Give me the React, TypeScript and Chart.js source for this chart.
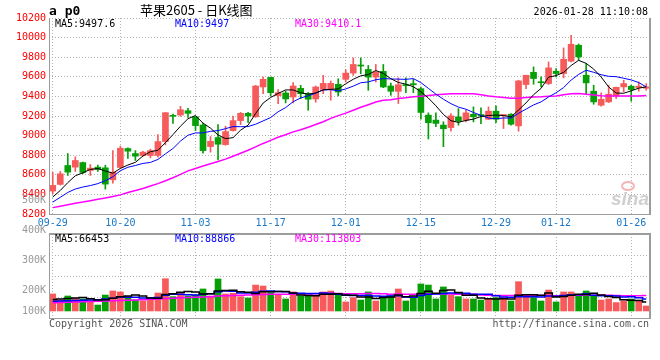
import React, { useEffect, useRef } from 'react';
import { Chart, registerables } from 'chart.js';

Chart.register(...registerables);

// ---------------- data ----------------
const DATES = [
  '09-29', '09-30', '10-09', '10-10', '10-13', '10-14', '10-15', '10-16', '10-17', '10-20',
  '10-21', '10-22', '10-23', '10-24', '10-27', '10-28', '10-29', '10-30', '10-31', '11-03',
  '11-04', '11-05', '11-06', '11-07', '11-10', '11-11', '11-12', '11-13', '11-14', '11-17',
  '11-18', '11-19', '11-20', '11-21', '11-24', '11-25', '11-26', '11-27', '11-28', '12-01',
  '12-02', '12-03', '12-04', '12-05', '12-08', '12-09', '12-10', '12-11', '12-12', '12-15',
  '12-16', '12-17', '12-18', '12-19', '12-22', '12-23', '12-24', '12-25', '12-26', '12-29',
  '12-30', '12-31', '01-05', '01-06', '01-07', '01-08', '01-09', '01-12', '01-13', '01-14',
  '01-15', '01-16', '01-19', '01-20', '01-21', '01-22', '01-23', '01-26', '01-27', '01-28',
];
const AXIS_DATES = ['09-29', '10-20', '11-03', '11-17', '12-01', '12-15', '12-29', '01-12', '01-26'];

const OPEN = [
  8434, 8502, 8695, 8678, 8725, 8644, 8678, 8671, 8549, 8675,
  8868, 8817, 8797, 8797, 8797, 8939, 9203, 9210, 9254, 9193,
  9108, 8888, 8980, 8908, 9051, 9153, 9227, 9192, 9496, 9594,
  9408, 9435, 9394, 9482, 9428, 9374, 9472, 9479, 9523, 9574,
  9638, 9716, 9675, 9597, 9655, 9506, 9452, 9519, 9530, 9479,
  9209, 9158, 9107, 9082, 9191, 9157, 9218, 9212, 9167, 9249,
  9205, 9218, 9099, 9521, 9646, 9545, 9531, 9657, 9633, 9759,
  9922, 9616, 9453, 9310, 9344, 9405, 9497, 9504, 9490, 9483,
];
const HIGH = [
  8624, 8634, 8817, 8783, 8730, 8705, 8698, 8698, 8847, 8892,
  8875, 8847, 8840, 8862, 9010, 9234, 9220, 9298, 9278, 9193,
  9129, 8990, 9112, 9095, 9200, 9237, 9237, 9512, 9597, 9597,
  9469, 9455, 9540, 9513, 9440, 9506, 9614, 9557, 9580, 9672,
  9793, 9793, 9716, 9726, 9726, 9536, 9590, 9590, 9574, 9496,
  9232, 9232, 9141, 9225, 9276, 9259, 9293, 9283, 9293, 9303,
  9215, 9225, 9565, 9616, 9701, 9599, 9752, 9684, 9895, 10024,
  9935, 9735, 9514, 9436, 9514, 9495, 9565, 9514, 9548, 9531,
];
const LOW = [
  8407, 8495, 8593, 8634, 8610, 8593, 8634, 8454, 8515, 8668,
  8766, 8746, 8790, 8773, 8780, 8905, 9125, 9197, 9186, 9051,
  8820, 8831, 8753, 8902, 9044, 9112, 9135, 9185, 9428, 9405,
  9327, 9334, 9334, 9378, 9259, 9340, 9428, 9361, 9405, 9547,
  9614, 9631, 9462, 9547, 9489, 9411, 9327, 9438, 9438, 9168,
  8965, 9090, 8887, 9045, 9106, 9140, 9140, 9123, 9164, 9133,
  9072, 9106, 9045, 9480, 9524, 9497, 9521, 9599, 9589, 9752,
  9769, 9422, 9320, 9300, 9337, 9378, 9446, 9351, 9453, 9463,
];
const CLOSE = [
  8492, 8610, 8627, 8746, 8624, 8668, 8654, 8505, 8627, 8871,
  8841, 8790, 8831, 8847, 8939, 9234, 9197, 9264, 9227, 9102,
  8847, 8942, 8912, 9041, 9153, 9227, 9200, 9506, 9574, 9438,
  9438, 9374, 9506, 9428, 9371, 9496, 9533, 9533, 9445, 9638,
  9726, 9710, 9597, 9648, 9496, 9452, 9519, 9510, 9519, 9236,
  9131, 9124, 9070, 9201, 9147, 9232, 9191, 9205, 9249, 9167,
  9215, 9116, 9558, 9616, 9582, 9540, 9691, 9633, 9779, 9932,
  9803, 9538, 9344, 9371, 9422, 9493, 9531, 9470, 9504, 9497,
];

const MA5 = [
  8373, 8440, 8520, 8590, 8620, 8655, 8664, 8639, 8616, 8665,
  8700, 8727, 8792, 8836, 8850, 8928, 9010, 9096, 9172, 9205,
  9127, 9076, 9006, 8969, 8979, 9055, 9107, 9225, 9332, 9389,
  9431, 9466, 9466, 9437, 9423, 9435, 9467, 9472, 9476, 9529,
  9575, 9610, 9623, 9664, 9635, 9581, 9542, 9525, 9499, 9447,
  9383, 9304, 9216, 9152, 9135, 9155, 9168, 9195, 9205, 9209,
  9205, 9190, 9261, 9334, 9417, 9482, 9597, 9612, 9645, 9715,
  9768, 9737, 9679, 9598, 9496, 9434, 9432, 9457, 9484, 9497.6,
];
const MA10 = [
  8322, 8370, 8420, 8455, 8475, 8490, 8510, 8540, 8580, 8642,
  8677, 8695, 8716, 8726, 8757, 8814, 8868, 8944, 9004, 9027,
  9028, 9043, 9051, 9071, 9092, 9091, 9092, 9116, 9150, 9184,
  9243, 9286, 9346, 9384, 9406, 9433, 9466, 9469, 9456, 9476,
  9505, 9539, 9548, 9570, 9582, 9578, 9576, 9574, 9582, 9541,
  9482, 9423, 9371, 9326, 9291, 9269, 9236, 9206, 9179, 9172,
  9180, 9179, 9228, 9270, 9313, 9344, 9394, 9437, 9490, 9566,
  9625, 9667, 9646, 9621, 9605, 9601, 9585, 9568, 9541, 9497,
];
const MA30 = [
  8265, 8280, 8295, 8310, 8322, 8336, 8350, 8364, 8378, 8395,
  8420, 8440, 8460, 8485, 8510, 8540, 8570, 8605, 8640, 8665,
  8690, 8712, 8735, 8760, 8790, 8820, 8850, 8885, 8920, 8951,
  8983, 9008, 9038, 9060, 9085, 9113, 9142, 9176, 9204, 9229,
  9259, 9289, 9315, 9342, 9360, 9367, 9378, 9386, 9396, 9401,
  9410, 9416, 9421, 9427, 9426, 9427, 9426, 9416, 9405, 9396,
  9389, 9380, 9382, 9388, 9395, 9397, 9402, 9405, 9417, 9426,
  9429, 9423, 9415, 9406, 9403, 9404, 9405, 9404, 9403, 9410.1,
];

const VOLUME = [
  126000, 81000, 111000, 94000, 89000, 74000, 44000, 118000, 148000, 141000,
  106000, 81000, 74000, 81000, 133000, 239000, 106000, 131000, 111000, 118000,
  163000, 111000, 237000, 126000, 131000, 106000, 96000, 192000, 185000, 136000,
  118000, 89000, 141000, 111000, 111000, 111000, 141000, 148000, 126000, 67000,
  99000, 81000, 141000, 74000, 106000, 113000, 163000, 74000, 99000, 200000,
  192000, 89000, 178000, 118000, 106000, 89000, 89000, 81000, 89000, 99000,
  99000, 74000, 217000, 118000, 99000, 74000, 155000, 67000, 141000, 141000,
  111000, 148000, 113000, 81000, 89000, 62000, 74000, 89000, 74000, 37000,
];
const VOL_MA5 = [
  85000, 88000, 92000, 96000, 100000, 90000, 82000, 84000, 95000, 105000,
  111000, 119000, 110000, 97000, 95000, 122000, 127000, 138000, 144000, 141000,
  126000, 127000, 148000, 151000, 154000, 142000, 139000, 130000, 142000, 143000,
  145000, 144000, 134000, 119000, 114000, 113000, 123000, 124000, 127000, 119000,
  116000, 104000, 103000, 92000, 100000, 103000, 119000, 106000, 111000, 130000,
  146000, 131000, 152000, 155000, 137000, 116000, 116000, 97000, 91000, 89000,
  91000, 88000, 116000, 121000, 121000, 116000, 133000, 103000, 107000, 116000,
  123000, 122000, 131000, 119000, 108000, 99000, 84000, 79000, 78000, 66453,
];
const VOL_MA10 = [
  72000, 74000, 76000, 78000, 80000, 82000, 84000, 88000, 95000, 103000,
  101000, 101000, 97000, 96000, 100000, 117000, 123000, 124000, 120000, 118000,
  124000, 127000, 143000, 148000, 147000, 134000, 133000, 139000, 147000, 148000,
  144000, 142000, 132000, 131000, 129000, 129000, 134000, 129000, 123000, 116000,
  114000, 114000, 114000, 110000, 109000, 110000, 112000, 104000, 102000, 115000,
  124000, 125000, 129000, 133000, 133000, 131000, 123000, 124000, 123000, 113000,
  104000, 102000, 106000, 106000, 105000, 104000, 111000, 109000, 114000, 119000,
  120000, 127000, 117000, 113000, 112000, 111000, 103000, 105000, 98000, 88866,
];
const VOL_MA30 = [
  60000, 62000, 64000, 66000, 68000, 70000, 72000, 74000, 76000, 78000,
  80000, 82000, 84000, 86000, 88000, 92000, 95000, 98000, 100000, 102000,
  104000, 106000, 110000, 113000, 115000, 117000, 119000, 121000, 122000, 123000,
  123000, 123000, 124000, 125000, 125000, 127000, 130000, 131000, 130000, 128000,
  127000, 127000, 130000, 129000, 128000, 124000, 126000, 124000, 124000, 127000,
  128000, 127000, 125000, 125000, 124000, 123000, 123000, 119000, 116000, 115000,
  114000, 114000, 116000, 116000, 116000, 115000, 115000, 113000, 113000, 116000,
  116000, 118000, 117000, 117000, 117000, 115000, 112000, 113000, 112000, 113803,
];

const PRICE_MIN = 8200;
const PRICE_MAX = 10200;
const PRICE_STEP = 200;
const VOL_MIN = -52000;
const VOL_MAX = 570000;
const VOL_TICK_VALUES = [-5000, 150000, 378000, 595000, 817000];
const VOL_TICK_LABELS = ['100K', '200K', '300K', '400K', '500K'];

const SYMBOL = 'a p0';
const TITLE = '苹果2605 - 日K线图';
const TIMESTAMP = '2026-01-28 11:10:08';
const COPYRIGHT = 'Copyright 2026 SINA.COM';
const SITE = 'http://finance.sina.com.cn';
const WATERMARK = 'sina';

// ---------------- styles ----------------
const MONO = "'DejaVu Sans Mono', 'Liberation Mono', monospace";
const RED = '#f65a5a';
const GREEN = '#079f07';
const GRID = '#b2b2b2';
const BORDER = '#9c9c9c';
const XBLUE = '#1a78c8';

Chart.defaults.font.family = MONO;
Chart.defaults.font.size = 10;

const last = (a: number[]) => a[a.length - 1];
const DIR_COLORS = CLOSE.map((c, i) => (c >= OPEN[i] ? RED : GREEN));

const xScale = (showLabels: boolean) => ({
  type: 'category',
  offset: true,
  grid: {
    offset: false,
    drawTicks: false,
    lineWidth: 1,
    color: (c: any) => (AXIS_DATES.includes(DATES[c.index]) ? GRID : 'rgba(0,0,0,0)'),
  },
  border: { display: false, dash: [1, 2] },
  ticks: showLabels
    ? {
        display: true,
        autoSkip: false,
        maxRotation: 0,
        minRotation: 0,
        padding: 3,
        color: XBLUE,
        font: { family: MONO, size: 10 },
        callback: (_v: any, i: number) => (AXIS_DATES.includes(DATES[i]) ? DATES[i] : ''),
      }
    : { display: false },
  afterFit: (s: any) => {
    s.height = showLabels ? 16 : 0;
  },
});

const drawFrame = (ctx: CanvasRenderingContext2D, a: any, thickTop: boolean) => {
  ctx.save();
  ctx.strokeStyle = BORDER;
  ctx.lineWidth = 1;
  ctx.beginPath();
  ctx.moveTo(a.left + 0.5, a.top);
  ctx.lineTo(a.left + 0.5, a.bottom + 1);
  ctx.moveTo(a.left, a.bottom + 0.5);
  ctx.lineTo(a.right, a.bottom + 0.5);
  ctx.stroke();
  ctx.lineWidth = 2;
  ctx.beginPath();
  ctx.moveTo(a.right, a.top - (thickTop ? 1 : 0));
  ctx.lineTo(a.right, a.bottom + 1);
  if (thickTop) {
    ctx.moveTo(a.left, a.top);
    ctx.lineTo(a.right + 1, a.top);
  }
  ctx.stroke();
  ctx.restore();
};

const drawMaLabels = (ctx: CanvasRenderingContext2D, a: any, texts: string[]) => {
  const colors = ['#000000', '#0000ff', '#ff00ff'];
  ctx.save();
  ctx.font = `10px ${MONO}`;
  ctx.textBaseline = 'middle';
  ctx.textAlign = 'left';
  texts.forEach((t, k) => {
    ctx.fillStyle = colors[k];
    ctx.fillText(t, a.left + 6 + k * 120, a.top + 6);
  });
  ctx.restore();
};

const priceDecor = {
  id: 'priceDecor',
  beforeDatasetsDraw(chart: any) {
    const { ctx, chartArea: a } = chart;
    ctx.save();
    ctx.font = `italic bold 19px 'Liberation Sans', sans-serif`;
    ctx.fillStyle = '#cfcfcf';
    ctx.textAlign = 'right';
    ctx.textBaseline = 'alphabetic';
    ctx.fillText(WATERMARK, a.right - 1, a.bottom - 9);
    ctx.strokeStyle = '#f3b5b5';
    ctx.lineWidth = 2;
    ctx.beginPath();
    ctx.ellipse(a.right - 22, a.bottom - 28, 6, 4, 0, 0, Math.PI * 2);
    ctx.stroke();
    ctx.restore();
  },
  afterDraw(chart: any) {
    const { ctx, chartArea: a } = chart;
    drawFrame(ctx, a, false);
    ctx.save();
    ctx.fillStyle = '#000';
    ctx.textBaseline = 'alphabetic';
    ctx.textAlign = 'left';
    ctx.font = `bold 13px ${MONO}`;
    ctx.fillText(SYMBOL, a.left, 15);
    ctx.font = `13px 'Noto Sans CJK SC', sans-serif`;
    ctx.fillText(TITLE, 140, 15);
    ctx.font = `10px ${MONO}`;
    ctx.textAlign = 'right';
    ctx.fillText(TIMESTAMP, a.right - 2, 15);
    ctx.restore();
    drawMaLabels(ctx, a, [`MA5:${last(MA5)}`, `MA10:${last(MA10)}`, `MA30:${last(MA30)}`]);
  },
};

const volumeDecor = {
  id: 'volumeDecor',
  afterDraw(chart: any) {
    const { ctx, chartArea: a } = chart;
    drawFrame(ctx, a, true);
    drawMaLabels(ctx, { ...a, top: a.top - 1 }, [
      `MA5:${last(VOL_MA5)}`,
      `MA10:${last(VOL_MA10)}`,
      `MA30:${last(VOL_MA30)}`,
    ]);
    ctx.save();
    // volume axis labels, placed through the label scale
    const yl = chart.scales.yl;
    ctx.font = `10px ${MONO}`;
    ctx.fillStyle = '#999999';
    ctx.textBaseline = 'middle';
    ctx.textAlign = 'right';
    VOL_TICK_VALUES.forEach((v, k) => {
      ctx.fillText(VOL_TICK_LABELS[k], a.left - 3, yl.getPixelForValue(v));
    });
    ctx.fillStyle = '#555555';
    ctx.textAlign = 'left';
    ctx.fillText(COPYRIGHT, a.left, a.bottom + 6);
    ctx.textAlign = 'right';
    ctx.fillText(SITE, a.right - 1, a.bottom + 6);
    ctx.restore();
  },
};

const lineDs = (data: number[], color: string, width: number, stepped: any) => ({
  type: 'line',
  data,
  borderColor: color,
  borderWidth: width,
  pointRadius: 0,
  tension: 0,
  stepped,
  order: 0,
});

function priceConfig(): any {
  return {
    type: 'bar',
    data: {
      labels: DATES,
      datasets: [
        lineDs(MA5, '#000000', 1, false),
        lineDs(MA10, '#0000ff', 1, false),
        lineDs(MA30, '#ff00ff', 1.5, false),
        {
          type: 'bar',
          data: OPEN.map((o, i) => [o, CLOSE[i]]),
          backgroundColor: DIR_COLORS,
          barThickness: 6,
          minBarLength: 1,
          grouped: false,
          borderWidth: 0,
          order: 1,
        },
        {
          type: 'bar',
          data: LOW.map((l, i) => [l, HIGH[i]]),
          backgroundColor: DIR_COLORS,
          barThickness: 1,
          grouped: false,
          borderWidth: 0,
          order: 2,
        },
      ],
    },
    options: {
      responsive: false,
      animation: false,
      devicePixelRatio: 1,
      events: [],
      layout: { padding: { left: 0, right: 10, top: 18, bottom: 0 } },
      plugins: { legend: { display: false }, tooltip: { enabled: false } },
      scales: {
        x: xScale(true),
        y: {
          min: PRICE_MIN,
          max: PRICE_MAX,
          grid: { color: GRID, drawTicks: false, lineWidth: 1 },
          border: { display: false, dash: [1, 2] },
          ticks: {
            stepSize: PRICE_STEP,
            color: '#ff0000',
            padding: 3,
            font: { family: MONO, size: 10 },
            callback: (v: any) => String(v),
          },
          afterFit: (s: any) => {
            s.width = 49;
          },
        },
      },
    },
    plugins: [priceDecor],
  };
}

function volumeConfig(): any {
  return {
    type: 'bar',
    data: {
      labels: DATES,
      datasets: [
        lineDs(VOL_MA5, '#000000', 1.5, 'middle'),
        lineDs(VOL_MA10, '#0000ff', 1.5, 'middle'),
        lineDs(VOL_MA30, '#ff00ff', 1.5, 'middle'),
        {
          type: 'bar',
          data: VOLUME,
          backgroundColor: DIR_COLORS,
          barThickness: 6,
          borderWidth: 0,
          order: 1,
        },
      ],
    },
    options: {
      responsive: false,
      animation: false,
      devicePixelRatio: 1,
      events: [],
      layout: { padding: { left: 0, right: 10, top: 44, bottom: 42 } },
      plugins: { legend: { display: false }, tooltip: { enabled: false } },
      scales: {
        x: xScale(false),
        y: {
          position: 'left',
          min: VOL_MIN,
          max: VOL_MAX,
          grid: { color: GRID, drawTicks: false, lineWidth: 1 },
          border: { display: false, dash: [1, 2] },
          ticks: { display: false },
          afterBuildTicks: (ax: any) => {
            const span = ax.max - ax.min;
            ax.ticks = [1, 2, 3].map((k) => ({ value: ax.min + (span * k) / 4 }));
          },
          afterFit: (s: any) => {
            s.width = 0;
          },
        },
        yl: {
          position: 'left',
          min: VOL_MIN,
          max: VOL_MAX,
          grid: { display: false, drawTicks: false },
          border: { display: false },
          ticks: { display: false },
          afterFit: (s: any) => {
            s.width = 49;
          },
        },
      },
    },
    plugins: [volumeDecor],
  };
}

export default function App() {
  const pRef = useRef<HTMLCanvasElement>(null);
  const vRef = useRef<HTMLCanvasElement>(null);
  useEffect(() => {
    const p = new Chart(pRef.current as HTMLCanvasElement, priceConfig());
    const v = new Chart(vRef.current as HTMLCanvasElement, volumeConfig());
    return () => {
      p.destroy();
      v.destroy();
    };
  }, []);
  return (
    <div style={{ position: 'fixed', left: 0, top: 0, width: 660, height: 360, background: '#ffffff' }}>
      <canvas ref={pRef} width={660} height={230} style={{ position: 'absolute', left: 0, top: 0 }} />
      <canvas ref={vRef} width={660} height={170} style={{ position: 'absolute', left: 0, top: 190 }} />
    </div>
  );
}
